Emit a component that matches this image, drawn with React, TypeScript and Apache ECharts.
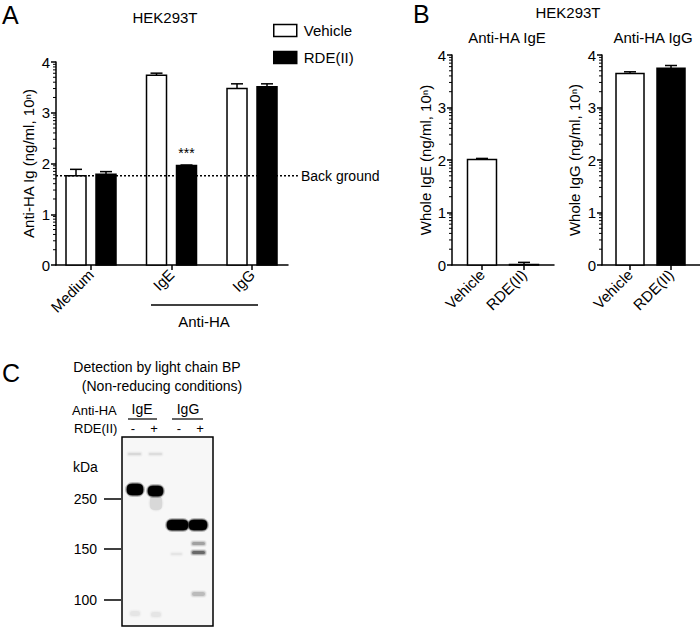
import React, { useEffect, useRef } from "react";
import * as echarts from "echarts";

// ---------- data ----------
const categoriesA = ["Medium", "IgE", "IgG"];
const vehicleA = [1.76, 3.74, 3.48];
const vehicleAErr = [0.125, 0.04, 0.09];
const rdeA = [1.79, 1.96, 3.51];
const rdeAErr = [0.05, 0.01, 0.06];
const significanceA = ["", "***", ""];
const backgroundLevel = 1.76;

const categoriesB = ["Vehicle", "RDE(II)"];
const wholeIgE = [2.01, 0.01];
const wholeIgEErr = [0.02, 0.04];
const wholeIgG = [3.65, 3.75];
const wholeIgGErr = [0.03, 0.05];

const yTicks = [0, 1, 2, 3, 4];
// log-spaced minor ticks of a 10^n axis
const minorTicks: number[] = [];
for (let n = 0; n < 4; n++) for (let k = 2; k <= 9; k++) minorTicks.push(n + Math.log10(k));

const FONT = "'Liberation Sans', Arial, Helvetica, sans-serif";
const BLACK = "#000";

// axis ranges (in category units) chosen to place categories as in the figure
const xA = { min: -0.4348, max: 2.447, lineEnd: 2.57 };
const xB1 = { min: -0.714, max: 1.714 };
const xB2 = { min: -0.683, max: 1.707 };

function yAxisCfg(gridIndex: number, name: string, nameGap: number) {
  return {
    type: "value",
    gridIndex,
    min: yTicks[0],
    max: yTicks[yTicks.length - 1],
    interval: 1,
    name,
    nameLocation: "middle",
    nameGap,
    nameTextStyle: { fontFamily: FONT, fontSize: 15, color: BLACK },
    axisLine: { show: true, onZero: false, lineStyle: { color: BLACK, width: 1.5 } },
    axisTick: { show: true, length: 5, lineStyle: { color: BLACK, width: 1.5 } },
    axisLabel: { fontFamily: FONT, fontSize: 15, color: BLACK, margin: 6 },
    splitLine: { show: false },
    axisPointer: { show: false },
  };
}

function xAxisCfg(gridIndex: number, range: { min: number; max: number }, cats: string[]) {
  const vals = cats.map((_, i) => i);
  return {
    type: "value",
    gridIndex,
    min: range.min,
    max: range.max,
    axisLine: { show: true, onZero: false, lineStyle: { color: BLACK, width: 1.5 } },
    axisTick: { show: true, length: 5, customValues: vals, lineStyle: { color: BLACK, width: 1.5 } },
    axisLabel: {
      customValues: vals,
      formatter: (v: number) => cats[Math.round(v)] ?? "",
      rotate: 45,
      fontFamily: FONT,
      fontSize: 15,
      color: BLACK,
      margin: 7,
    },
    splitLine: { show: false },
    axisPointer: { show: false },
  };
}

function barRender(
  vals: number[],
  errs: number[],
  offset: number,
  width: number,
  fillFor: (idx: number) => string,
  labels?: string[]
) {
  return (params: any, api: any) => {
    const i = params.dataIndex;
    const x = api.value(0);
    const y = vals[i];
    const e = errs[i];
    const base = api.coord([x, 0]);
    const top = api.coord([x, y]);
    const errTop = api.coord([x, y + e]);
    const cx = base[0] + offset;
    const children: any[] = [
      {
        type: "rect",
        shape: { x: cx - width / 2, y: top[1], width, height: base[1] - top[1] },
        style: { fill: fillFor(i), stroke: BLACK, lineWidth: 1.5 },
      },
      {
        type: "line",
        shape: { x1: cx, y1: top[1], x2: cx, y2: errTop[1] },
        style: { stroke: BLACK, lineWidth: 1.5 },
      },
      {
        type: "line",
        shape: { x1: cx - 6, y1: errTop[1], x2: cx + 6, y2: errTop[1] },
        style: { stroke: BLACK, lineWidth: 1.5 },
      },
    ];
    const lab = labels ? labels[i] : "";
    if (lab) {
      children.push({
        type: "text",
        style: {
          text: lab,
          x: cx,
          y: errTop[1] - 5,
          align: "center",
          verticalAlign: "bottom",
          font: `14px ${FONT}`,
          fill: BLACK,
        },
      });
    }
    return { type: "group", children };
  };
}

function minorTickSeries(axisIndex: number, xMin: number) {
  return {
    type: "custom",
    xAxisIndex: axisIndex,
    yAxisIndex: axisIndex,
    silent: true,
    clip: false,
    data: minorTicks.map((v) => [xMin, v]),
    renderItem: (_p: any, api: any) => {
      const p = api.coord([api.value(0), api.value(1)]);
      return {
        type: "line",
        shape: { x1: p[0] - 3, y1: p[1], x2: p[0], y2: p[1] },
        style: { stroke: BLACK, lineWidth: 1 },
      };
    },
  };
}

const txt = (text: string, x: number, y: number, size = 13, align = "left") => ({
  type: "text",
  x,
  y,
  style: {
    text,
    align,
    textAlign: align,
    verticalAlign: "middle",
    textVerticalAlign: "middle",
    font: `${size}px ${FONT}`,
    fill: BLACK,
  },
});

// a blot band: soft halo + core
const band = (x: number, y: number, w: number, h: number, alpha: number) => [
  {
    type: "rect",
    shape: { x: x - 2, y: y - 2, width: w + 4, height: h + 4, r: (h + 4) / 2 },
    style: { fill: `rgba(0,0,0,${(alpha * 0.25).toFixed(3)})` },
  },
  {
    type: "rect",
    shape: { x: x - 1, y: y - 1, width: w + 2, height: h + 2, r: (h + 2) / 2 },
    style: { fill: `rgba(0,0,0,${(alpha * 0.5).toFixed(3)})` },
  },
  {
    type: "rect",
    shape: { x, y, width: w, height: h, r: Math.min(h / 2, 4) },
    style: { fill: `rgba(0,0,0,${alpha})` },
  },
];

const hline = (x1: number, x2: number, y: number, w = 1.5) => ({
  type: "line",
  shape: { x1, y1: y, x2, y2: y },
  style: { stroke: BLACK, lineWidth: w },
});

export default function App() {
  const ref = useRef<HTMLDivElement>(null);
  useEffect(() => {
    if (!ref.current) return;
    const chart = echarts.init(ref.current, undefined, { renderer: "svg" });

    const toData = (vals: number[]) => vals.map((v, i) => [i, v]);
    const titleStyle = (size: number) => ({ fontFamily: FONT, fontSize: size, fontWeight: "normal", color: BLACK });

    const blot: any[] = [
      {
        type: "rect",
        shape: { x: 122, y: 437, width: 91, height: 189 },
        style: { fill: "#f7f7f7", stroke: BLACK, lineWidth: 1.5 },
      },
      ...band(128, 453, 13, 2, 0.07),
      ...band(149, 453, 13, 2, 0.06),
      ...band(150, 496, 12, 14, 0.07),
      ...band(127, 484, 16, 11, 1),
      ...band(148, 486, 15, 10, 1),
      ...band(167, 520, 21, 10, 1),
      ...band(189, 520, 18, 10, 1),
      ...band(192, 542, 13, 3, 0.22),
      ...band(192, 551, 13, 3, 0.4),
      ...band(171, 553, 11, 2, 0.04),
      ...band(192, 592, 13, 4, 0.15),
      ...band(130, 611, 10, 5, 0.04),
      ...band(151, 612, 10, 5, 0.04),
    ];

    const option: any = {
      animation: false,
      backgroundColor: "#fff",
      textStyle: { fontFamily: FONT, color: BLACK },
      title: [
        { text: "HEK293T", left: 160, top: 5, textAlign: "center", textStyle: titleStyle(15) },
        { text: "HEK293T", left: 563, top: 0, textAlign: "center", textStyle: titleStyle(15) },
        { text: "Anti-HA IgE", left: 502, top: 25, textAlign: "center", textStyle: titleStyle(15) },
        { text: "Anti-HA IgG", left: 648, top: 25, textAlign: "center", textStyle: titleStyle(15) },
      ],
      legend: {
        orient: "vertical",
        left: 268,
        top: 18,
        itemWidth: 23,
        itemHeight: 12,
        itemGap: 12,
        textStyle: { fontFamily: FONT, fontSize: 15, color: BLACK, padding: [0, 0, 0, 2] },
        data: [
          { name: "Vehicle", icon: "rect", itemStyle: { color: "#fff", borderColor: BLACK, borderWidth: 1.5 } },
          { name: "RDE(II)", icon: "rect", itemStyle: { color: BLACK, borderColor: BLACK, borderWidth: 1.5 } },
        ],
        selectedMode: false,
      },
      grid: [
        { left: 56, top: 62, width: 232, height: 203 },
        { left: 452, top: 55, width: 102, height: 210 },
        { left: 602, top: 55, width: 98, height: 210 },
      ],
      xAxis: [xAxisCfg(0, xA, categoriesA), xAxisCfg(1, xB1, categoriesB), xAxisCfg(2, xB2, categoriesB)],
      yAxis: [
        yAxisCfg(0, "Anti-HA Ig (ng/ml, 10\u207F)", 20),
        yAxisCfg(1, "Whole IgE (ng/ml, 10\u207F)", 19),
        yAxisCfg(2, "Whole IgG (ng/ml, 10\u207F)", 20),
      ],
      series: [
        {
          name: "Vehicle",
          type: "custom",
          xAxisIndex: 0,
          yAxisIndex: 0,
          clip: false,
          itemStyle: { color: "#fff" },
          encode: { x: 0, y: 1 },
          data: toData(vehicleA),
          renderItem: barRender(vehicleA, vehicleAErr, -15, 20, () => "#fff"),
        },
        {
          name: "RDE(II)",
          type: "custom",
          xAxisIndex: 0,
          yAxisIndex: 0,
          clip: false,
          itemStyle: { color: BLACK },
          encode: { x: 0, y: 1 },
          data: toData(rdeA),
          renderItem: barRender(rdeA, rdeAErr, 15, 20, () => BLACK, significanceA),
        },
        {
          name: "Back ground",
          type: "custom",
          xAxisIndex: 0,
          yAxisIndex: 0,
          clip: false,
          silent: true,
          data: [[xA.min, backgroundLevel]],
          renderItem: (_p: any, api: any) => {
            const p0 = api.coord([xA.min, backgroundLevel]);
            const p1 = api.coord([xA.lineEnd, backgroundLevel]);
            return {
              type: "group",
              children: [
                { type: "line", shape: { x1: p0[0], y1: p0[1], x2: p1[0], y2: p1[1] }, style: { stroke: BLACK, lineWidth: 1.5, lineDash: [2, 2] } },
                { type: "text", style: { text: "Back ground", x: p1[0] + 3, y: p1[1], align: "left", verticalAlign: "middle", font: `14px ${FONT}`, fill: BLACK } },
              ],
            };
          },
        },
        {
          name: "Whole IgE",
          type: "custom",
          xAxisIndex: 1,
          yAxisIndex: 1,
          clip: false,
          itemStyle: { color: "#fff" },
          encode: { x: 0, y: 1 },
          data: toData(wholeIgE),
          renderItem: barRender(wholeIgE, wholeIgEErr, 0, 29, (i) => (i === 0 ? "#fff" : BLACK)),
        },
        {
          name: "Whole IgG",
          type: "custom",
          xAxisIndex: 2,
          yAxisIndex: 2,
          clip: false,
          itemStyle: { color: "#fff" },
          encode: { x: 0, y: 1 },
          data: toData(wholeIgG),
          renderItem: barRender(wholeIgG, wholeIgGErr, 0, 28, (i) => (i === 0 ? "#fff" : BLACK)),
        },
        minorTickSeries(0, xA.min),
        minorTickSeries(1, xB1.min),
        minorTickSeries(2, xB2.min),
      ],
      graphic: [
        // panel letters
        txt("A", 2, 15, 25),
        txt("B", 413, 14, 25),
        txt("C", 2, 373, 25),
        // Anti-HA bracket under panel A
        hline(151, 258, 305),
        txt("Anti-HA", 204, 321, 15, "center"),
        // Panel C header
        txt("Detection by light chain BP", 157, 367, 14, "center"),
        txt("(Non-reducing conditions)", 162, 386, 14, "center"),
        txt("Anti-HA", 72, 410, 13),
        txt("IgE", 142, 409, 14, "center"),
        txt("IgG", 188, 409, 14, "center"),
        hline(128, 157, 419, 1.2),
        hline(172, 203, 419, 1.2),
        txt("RDE(II)", 74, 428, 13),
        txt("-", 133, 428, 13, "center"),
        txt("+", 154, 428, 13, "center"),
        txt("-", 179, 428, 13, "center"),
        txt("+", 200, 428, 13, "center"),
        txt("kDa", 73, 467, 14),
        txt("250", 97, 499, 14, "right"),
        txt("150", 97, 549, 14, "right"),
        txt("100", 97, 600, 14, "right"),
        hline(104, 121, 499),
        hline(104, 121, 549),
        hline(104, 121, 600),
        ...blot,
      ],
    };
    chart.setOption(option);
    return () => chart.dispose();
  }, []);
  return <div ref={ref} style={{ position: "fixed", left: 0, top: 0, width: 700, height: 628 }} />;
}
